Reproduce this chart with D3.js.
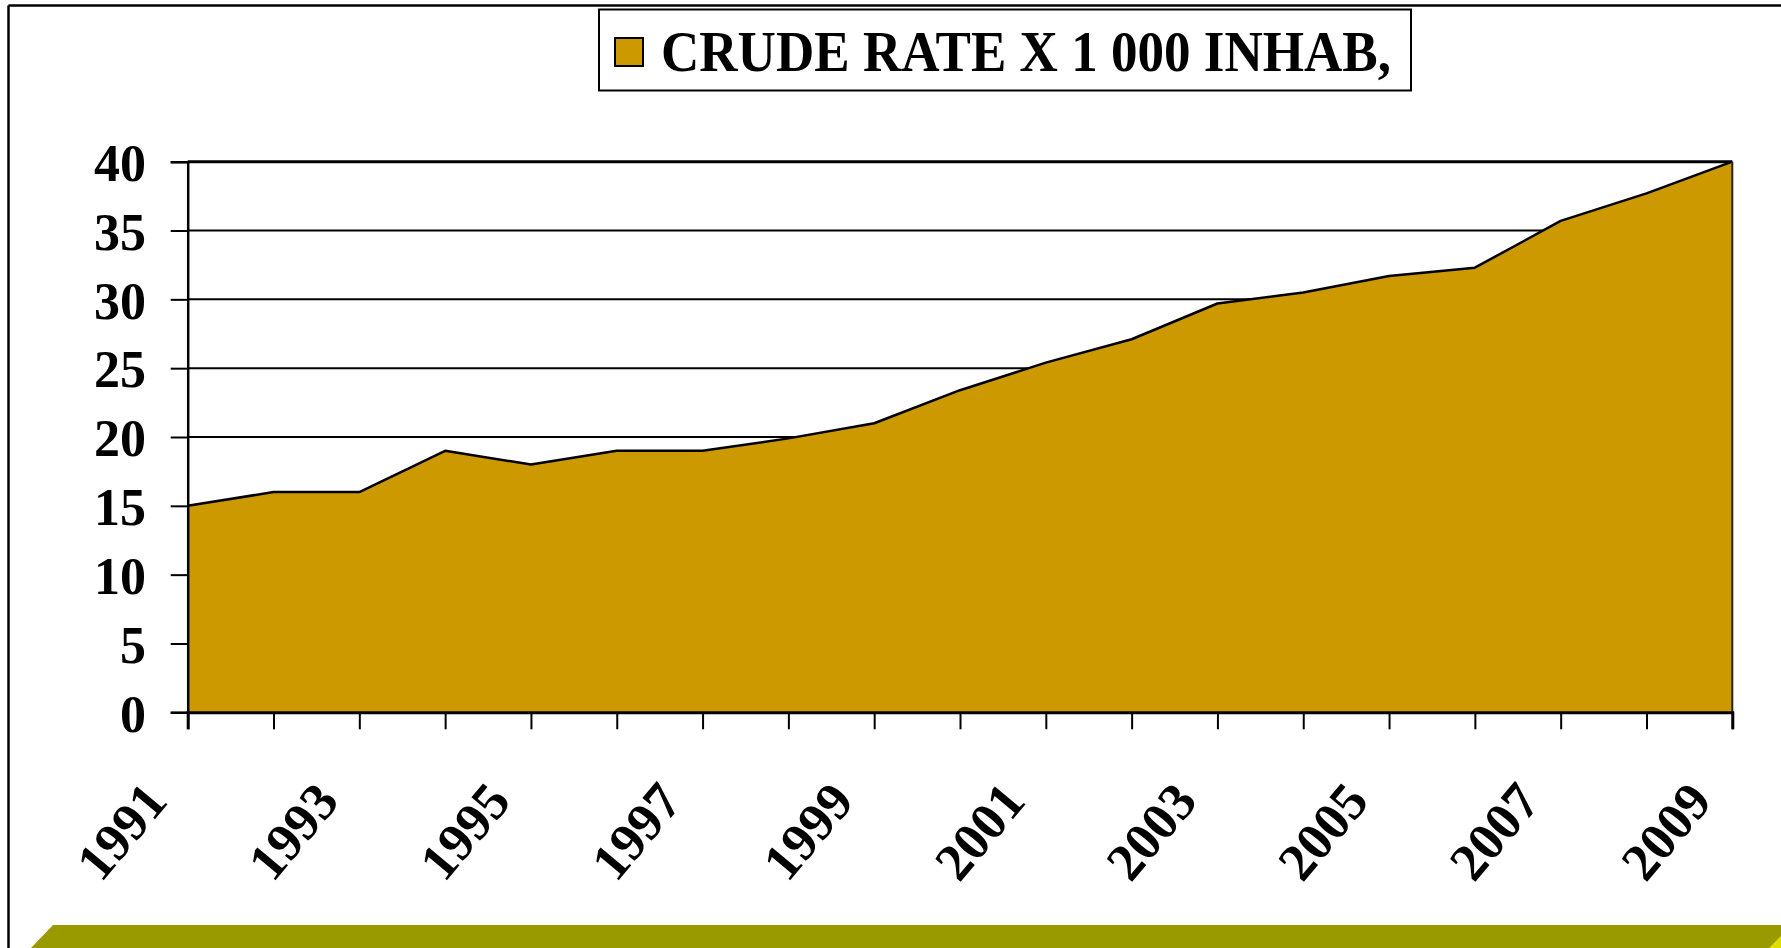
<!DOCTYPE html>
<html>
<head>
<meta charset="utf-8">
<script src="https://cdn.jsdelivr.net/npm/d3@7"></script>
<style>
  html, body { margin: 0; padding: 0; background: #ffffff; }
  svg { display: block; }
  .lbl { font-family: "Liberation Serif", "Times New Roman", serif; font-weight: bold; fill: #000; }
</style>
</head>
<body>
<svg id="chart" width="1781" height="948"></svg>
<script>
// ---- data ----
const years = ["1991","1992","1993","1994","1995","1996","1997","1998","1999","2000",
               "2001","2002","2003","2004","2005","2006","2007","2008","2009"];
const rates = [15, 16, 16, 19, 18, 19, 19, 19.9, 21, 23.4,
               25.4, 27.1, 29.7, 30.5, 31.7, 32.3, 35.7, 37.7, 40];
const yTicks = [0, 5, 10, 15, 20, 25, 30, 35, 40];
const xTickLabels = ["1991","1993","1995","1997","1999","2001","2003","2005","2007","2009"];
const seriesName = "CRUDE RATE X 1 000 INHAB,";

// ---- layout ----
const W = 1781, H = 948;
const plot = { left: 187.7, right: 1732.3, top: 161.7, bottom: 712.3 };
const fillColor = "#CC9900";

const svg = d3.select("#chart");

// outer frame (left + top lines)
svg.append("line").attr("x1", 8.5).attr("y1", 5.5).attr("x2", 8.5).attr("y2", H)
  .attr("stroke", "#000").attr("stroke-width", 2.5);
svg.append("line").attr("x1", 8.5).attr("y1", 5.5).attr("x2", W).attr("y2", 5.5)
  .attr("stroke", "#000").attr("stroke-width", 2.5);

// bottom olive band
svg.append("polygon")
  .attr("points", [[53, 925], [W, 925], [W, H], [31, H]].map(p => p.join(",")).join(" "))
  .attr("fill", "#999900");
svg.append("polygon")
  .attr("points", [[W, 936], [W, H], [1769, H]].map(p => p.join(",")).join(" "))
  .attr("fill", "#E0E000");

// scales
const x = d3.scalePoint().domain(years).range([plot.left, plot.right]);
const y = d3.scaleLinear().domain([0, 40]).range([plot.bottom, plot.top]);

// gridlines
svg.append("g").selectAll("line").data(yTicks.filter(t => t > 0)).join("line")
  .attr("x1", plot.left).attr("x2", plot.right)
  .attr("y1", d => y(d)).attr("y2", d => y(d))
  .attr("stroke", "#000").attr("stroke-width", d => d === 40 ? 3 : 2);

// area
const area = d3.area()
  .x((d, i) => x(years[i]))
  .y0(y(0))
  .y1(d => y(d));
const line = d3.line()
  .x((d, i) => x(years[i]))
  .y(d => y(d));

svg.append("path").datum(rates).attr("d", area).attr("fill", fillColor);
svg.append("path").datum(rates).attr("d", line)
  .attr("fill", "none").attr("stroke", "#000").attr("stroke-width", 2.5)
  .attr("stroke-linejoin", "round");

// right border of plot
svg.append("line").attr("x1", plot.right).attr("x2", plot.right)
  .attr("y1", plot.top).attr("y2", plot.bottom)
  .attr("stroke", "#222").attr("stroke-width", 2);

// y axis
const yAxis = d3.axisLeft(y).tickValues(yTicks).tickSize(17).tickPadding(24.7)
  .tickFormat(d3.format("d"));
const gy = svg.append("g").attr("transform", `translate(${plot.left},0)`).call(yAxis);
gy.select(".domain").attr("stroke", "#000").attr("stroke-width", 2.5);
gy.selectAll(".tick line").attr("stroke", "#000").attr("stroke-width", 2);
gy.selectAll(".tick text").attr("class", "lbl")
  .style("font-size", "52px").attr("dy", "0.36em");

// x axis
const xAxis = d3.axisBottom(x).tickSize(17)
  .tickFormat(d => xTickLabels.includes(d) ? d : "");
const gx = svg.append("g").attr("transform", `translate(0,${plot.bottom})`).call(xAxis);
gx.select(".domain").attr("stroke", "#000").attr("stroke-width", 3);
gx.selectAll(".tick line").attr("stroke", "#000").attr("stroke-width", 2);
gx.selectAll(".tick text").attr("class", "lbl")
  .style("font-size", "53px")
  .attr("text-anchor", "end")
  .attr("x", 0).attr("y", 0).attr("dy", 0)
  .attr("transform", "translate(-19,90) rotate(-50)");

// legend
const lg = svg.append("g");
lg.append("rect").attr("x", 599).attr("y", 9.5).attr("width", 812).attr("height", 81)
  .attr("fill", "#fff").attr("stroke", "#000").attr("stroke-width", 2);
lg.append("rect").attr("x", 615).attr("y", 38).attr("width", 28).attr("height", 28)
  .attr("fill", fillColor).attr("stroke", "#000").attr("stroke-width", 2);
lg.append("text").attr("class", "lbl").attr("x", 661).attr("y", 71)
  .style("font-size", "57px")
  .attr("textLength", 730).attr("lengthAdjust", "spacingAndGlyphs")
  .text(seriesName);
</script>
</body>
</html>
